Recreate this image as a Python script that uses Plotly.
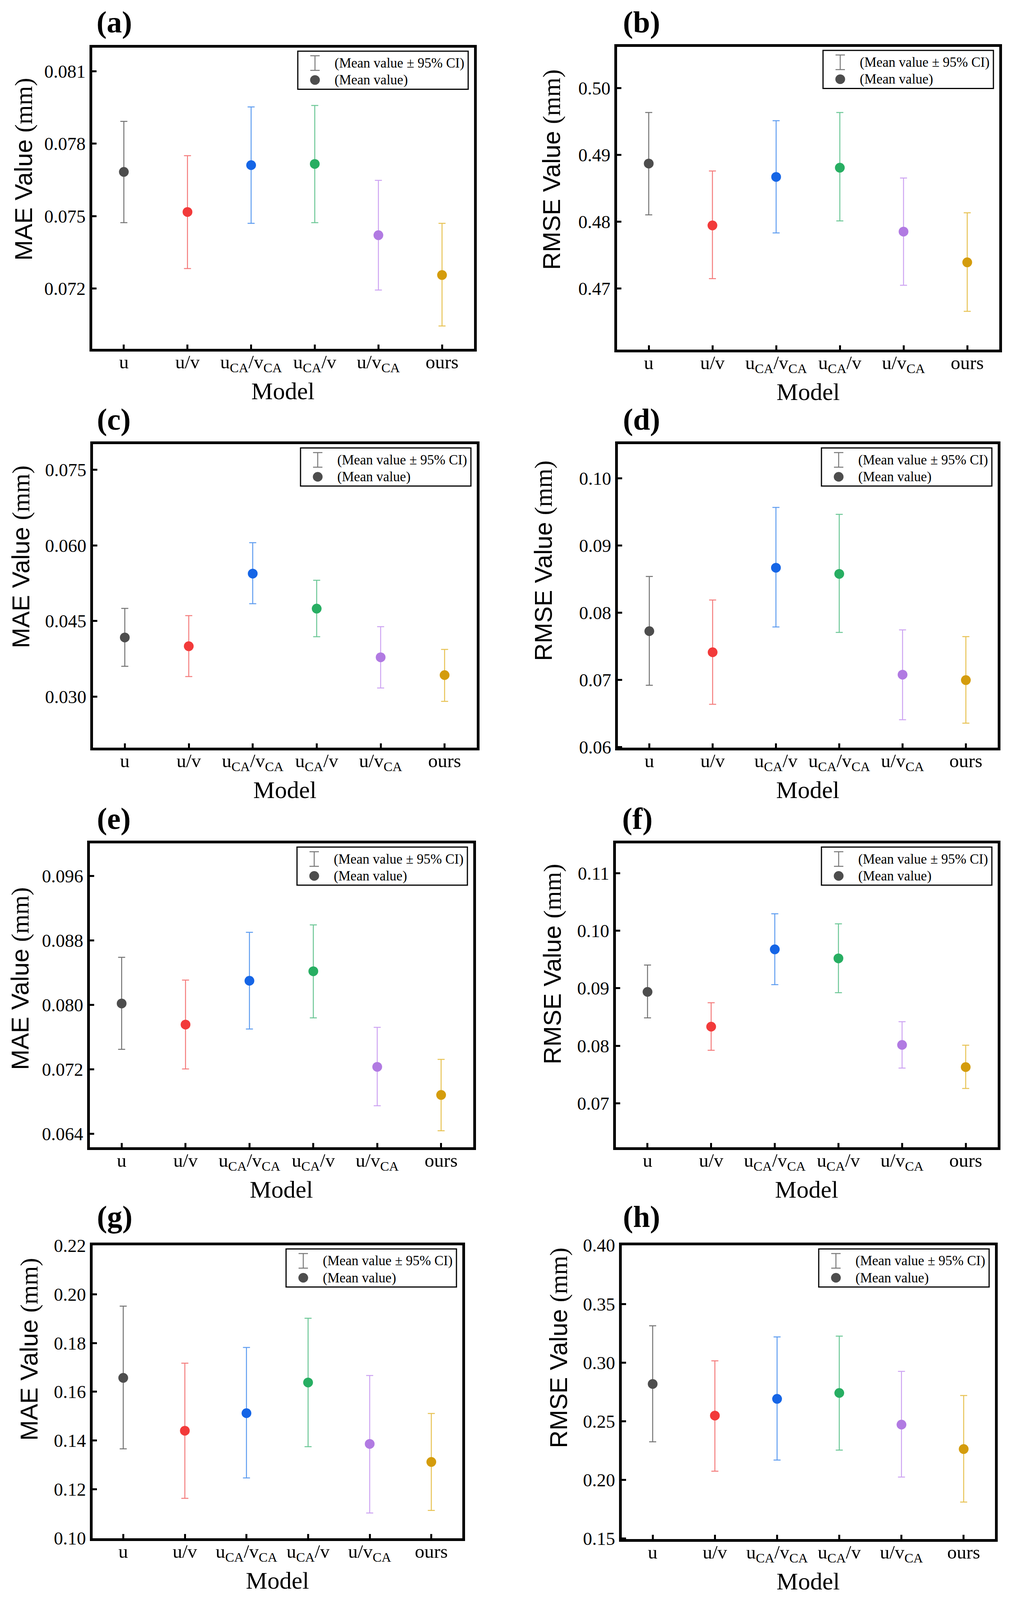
import plotly.graph_objects as go

# reference canvas (all positions below are measured in reference pixels)
W, H = 2587, 4161
# visible browser viewport height (the photographed area); the page is laid out to fit it
FIG_H = 4096

# ---------------- data ----------------
labels_main = ["u", "u/v", "u<sub>CA</sub>/v<sub>CA</sub>", "u<sub>CA</sub>/v", "u/v<sub>CA</sub>", "ours"]
labels_d = ["u", "u/v", "u<sub>CA</sub>/v", "u<sub>CA</sub>/v<sub>CA</sub>", "u/v<sub>CA</sub>", "ours"]

a_mean = [0.07683, 0.07517, 0.07711, 0.07716, 0.07421, 0.07256]
a_upper = [0.07892, 0.07750, 0.07952, 0.07958, 0.07648, 0.07470]
a_lower = [0.07473, 0.07283, 0.07470, 0.07473, 0.07194, 0.07045]

b_mean = [0.48870, 0.47945, 0.48670, 0.48808, 0.47852, 0.47393]
b_upper = [0.49634, 0.48758, 0.49510, 0.49634, 0.48654, 0.48134]
b_lower = [0.48103, 0.47150, 0.47833, 0.48013, 0.47050, 0.46660]

c_mean = [0.04175, 0.04002, 0.05442, 0.04747, 0.03782, 0.03429]
c_upper = [0.04752, 0.04609, 0.06055, 0.05309, 0.04390, 0.03939]
c_lower = [0.03603, 0.03399, 0.04844, 0.04190, 0.03174, 0.02908]

d_mean = [0.07725, 0.07411, 0.08669, 0.08577, 0.07077, 0.06996]
d_upper = [0.08539, 0.08189, 0.09567, 0.09463, 0.07744, 0.07644]
d_lower = [0.06920, 0.06636, 0.07787, 0.07706, 0.06406, 0.06356]

e_mean = [0.08019, 0.07757, 0.08301, 0.08419, 0.07232, 0.06883]
e_upper = [0.08592, 0.08310, 0.08902, 0.08995, 0.07722, 0.07325]
e_lower = [0.07450, 0.07206, 0.07702, 0.07840, 0.06749, 0.06438]

f_mean = [0.08937, 0.08333, 0.09676, 0.09519, 0.08016, 0.07631]
f_upper = [0.09403, 0.08749, 0.10293, 0.10119, 0.08419, 0.08011]
f_lower = [0.08485, 0.07922, 0.09063, 0.08924, 0.07613, 0.07260]

g_mean = [0.16571, 0.14402, 0.15122, 0.16381, 0.13862, 0.13122]
g_upper = [0.19513, 0.17175, 0.17820, 0.19016, 0.16667, 0.15111]
g_lower = [0.13661, 0.11630, 0.12466, 0.13746, 0.11026, 0.11132]

h_mean = [0.28180, 0.25482, 0.26908, 0.27412, 0.24715, 0.22632]
h_upper = [0.33136, 0.30154, 0.32193, 0.32259, 0.29254, 0.27193]
h_lower = [0.23246, 0.20746, 0.21689, 0.22544, 0.20241, 0.18114]

a_ticks = [0.072, 0.075, 0.078, 0.081]
b_ticks = [0.47, 0.48, 0.49, 0.50]
c_ticks = [0.030, 0.045, 0.060, 0.075]
d_ticks = [0.06, 0.07, 0.08, 0.09, 0.10]
e_ticks = [0.064, 0.072, 0.080, 0.088, 0.096]
f_ticks = [0.07, 0.08, 0.09, 0.10, 0.11]
g_ticks = [0.10, 0.12, 0.14, 0.16, 0.18, 0.20, 0.22]
h_ticks = [0.15, 0.20, 0.25, 0.30, 0.35, 0.40]

a_range = [0.06950, 0.08198]
b_range = [0.46086, 0.50617]
c_range = [0.01989, 0.08006]
d_range = [0.05990, 0.10506]
e_range = [0.06234, 0.10006]
f_range = [0.06239, 0.11515]
g_range = [0.09990, 0.22010]
h_range = [0.14960, 0.40000]

panel_letters = ["(a)", "(b)", "(c)", "(d)", "(e)", "(f)", "(g)", "(h)"]
y_titles = ["MAE", "RMSE", "MAE", "RMSE", "MAE", "RMSE", "MAE", "RMSE"]
x_title = "Model"
legend_texts = ["(Mean value \u00b1 95% CI)", "(Mean value)"]

marker_colors = ["#4d4d4d", "#f23a3a", "#1565e6", "#27ae62", "#b17ae2", "#d49c0c"]
error_colors = ["#737373", "#f47c7c", "#5f9df0", "#6cc796", "#cda4f2", "#e7c253"]

panels = [
    dict(labels=labels_main, mean=a_mean, up=a_upper, lo=a_lower, ticks=a_ticks, rng=a_range, fmt=".3f",
         box=(232, 120, 1216, 911), letter=(292, 57), ytit=(60, 440)),
    dict(labels=labels_main, mean=b_mean, up=b_upper, lo=b_lower, ticks=b_ticks, rng=b_range, fmt=".2f",
         box=(1575, 118, 2560, 913), letter=(1641, 57), ytit=(1411, 442)),
    dict(labels=labels_main, mean=c_mean, up=c_upper, lo=c_lower, ticks=c_ticks, rng=c_range, fmt=".3f",
         box=(234, 1152, 1223, 1948), letter=(291, 1091), ytit=(53, 1448)),
    dict(labels=labels_d, mean=d_mean, up=d_upper, lo=d_lower, ticks=d_ticks, rng=d_range, fmt=".2f",
         box=(1577, 1152, 2556, 1948), letter=(1641, 1091), ytit=(1390, 1458)),
    dict(labels=labels_main, mean=e_mean, up=e_upper, lo=e_lower, ticks=e_ticks, rng=e_range, fmt=".3f",
         box=(226, 2190, 1214, 2987), letter=(291, 2129), ytit=(51, 2545)),
    dict(labels=labels_main, mean=f_mean, up=f_upper, lo=f_lower, ticks=f_ticks, rng=f_range, fmt=".2f",
         box=(1572, 2190, 2556, 2987), letter=(1631, 2129), ytit=(1414, 2508)),
    dict(labels=labels_main, mean=g_mean, up=g_upper, lo=g_lower, ticks=g_ticks, rng=g_range, fmt=".2f",
         box=(233, 3235, 1186, 4004), letter=(293, 3164), ytit=(74, 3509)),
    dict(labels=labels_main, mean=h_mean, up=h_upper, lo=h_lower, ticks=h_ticks, rng=h_range, fmt=".2f",
         box=(1587, 3235, 2549, 4006), letter=(1641, 3164), ytit=(1429, 3506)),
]

SERIF = "Liberation Serif"
SANS = "Liberation Sans"
LW = 7


def px(x):
    return x / W


def py(y):
    return 1 - y / H


fig = go.Figure()
layout = dict(
    width=W, height=FIG_H, autosize=False,
    margin=dict(l=0, r=0, t=0, b=0, autoexpand=False),
    paper_bgcolor="white", plot_bgcolor="white",
    showlegend=False,
    font=dict(family=SERIF, color="black"),
)
annotations = []
shapes = []

for i, p in enumerate(panels):
    k = "" if i == 0 else str(i + 1)
    xa, ya = "x" + k, "y" + k
    L, T, R, B = p["box"]
    ins = LW / 2.0
    for j in range(6):
        m = p["mean"][j]
        fig.add_trace(go.Scatter(
            x=[p["labels"][j]], y=[m], mode="markers",
            marker=dict(size=25, color=marker_colors[j], line=dict(width=0)),
            error_y=dict(type="data", symmetric=False,
                         array=[p["up"][j] - m], arrayminus=[m - p["lo"][j]],
                         color=error_colors[j], thickness=2.5, width=9),
            xaxis=xa, yaxis=ya, showlegend=False, cliponaxis=False,
        ))
    layout["xaxis" + k] = dict(
        domain=[px(L + ins), px(R - ins)], anchor=ya,
        type="category", categoryorder="array", categoryarray=p["labels"],
        range=[-0.5, 5.5], showgrid=False, zeroline=False,
        showline=True, mirror=True, linecolor="black", linewidth=LW,
        ticks="inside", ticklen=11, tickwidth=5, tickcolor="black",
        tickfont=dict(family=SERIF, size=49, color="black"),
        ticklabelstandoff=-16, automargin=False,
        fixedrange=True,
    )
    layout["yaxis" + k] = dict(
        domain=[py(B - ins), py(T + ins)], anchor=xa,
        range=p["rng"], tickvals=p["ticks"], tickformat=p["fmt"],
        showgrid=False, zeroline=False,
        showline=True, mirror=True, linecolor="black", linewidth=LW,
        ticks="inside", ticklen=11, tickwidth=5, tickcolor="black",
        tickfont=dict(family=SERIF, size=47, color="black"),
        automargin=False,
        fixedrange=True,
    )
    # panel letter
    lx, ly = p["letter"]
    annotations.append(dict(x=px(lx), y=py(ly), xref="paper", yref="paper", text="<b>" + panel_letters[i] + "</b>",
                            showarrow=False, xanchor="center", yanchor="middle",
                            font=dict(family=SERIF, size=78, color="black")))
    # y title
    tx, ty = p["ytit"]
    annotations.append(dict(x=px(tx), y=py(ty), xref="paper", yref="paper",
                            text=y_titles[i] + ' Value <span style="font-family:Liberation Serif">(mm)</span>',
                            textangle=-90, showarrow=False, xanchor="center", yanchor="middle",
                            font=dict(family=SANS, size=63, color="black")))
    # x title
    annotations.append(dict(x=px((L + R) / 2), y=py(B + 106), xref="paper", yref="paper", text=x_title,
                            showarrow=False, xanchor="center", yanchor="middle", borderpad=0,
                            font=dict(family=SERIF, size=62, color="black")))
    # legend box
    gl = R - 18 - 436
    gr = R - 18
    gt = T + 13
    gb = T + 112
    shapes.append(dict(type="rect", xref="paper", yref="paper", x0=px(gl), x1=px(gr), y0=py(gb), y1=py(gt),
                       line=dict(color="black", width=3), fillcolor="white", layer="above"))
    cx = gl + 44
    r1 = gt + 31
    r2 = gt + 75
    # I-beam symbol
    shapes.append(dict(type="line", xref="paper", yref="paper", x0=px(cx), x1=px(cx), y0=py(r1 - 19), y1=py(r1 + 19),
                       line=dict(color="#777777", width=2.5), layer="above"))
    for yy in (r1 - 19, r1 + 19):
        shapes.append(dict(type="line", xref="paper", yref="paper", x0=px(cx - 12), x1=px(cx + 12), y0=py(yy), y1=py(yy),
                           line=dict(color="#777777", width=2.5), layer="above"))
    # circle symbol
    shapes.append(dict(type="circle", xref="paper", yref="paper", x0=px(cx - 12.5), x1=px(cx + 12.5),
                       y0=py(r2 + 12.5), y1=py(r2 - 12.5),
                       line=dict(width=0), fillcolor="#4d4d4d", layer="above"))
    for txt, yy in zip(legend_texts, (r1, r2)):
        annotations.append(dict(x=px(gl + 92), y=py(yy), xref="paper", yref="paper", text=txt,
                                showarrow=False, xanchor="left", yanchor="middle",
                                font=dict(family=SERIF, size=35, color="black")))

layout["annotations"] = annotations
layout["shapes"] = shapes
fig.update_layout(**layout)
fig.write_html(
    "out.html",
    config={"displayModeBar": False},
    post_script="document.body.style.margin='0px';document.body.style.padding='0px';"
                "document.documentElement.style.overflow='hidden';",
)
